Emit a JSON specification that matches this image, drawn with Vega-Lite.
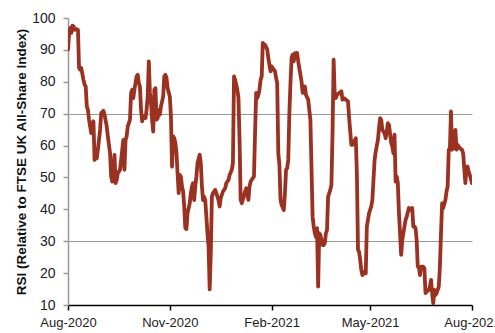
{
  "$schema": "https://vega.github.io/schema/vega-lite/v6.json",
  "width": 404,
  "height": 287,
  "autosize": "none",
  "padding": {"left": 68, "top": 18, "right": 23, "bottom": 28},
  "background": "white",
  "config": {"view": {"stroke": null}, "font": "Liberation Sans"},
  "data": {"values": [
    {"date":"2020-08-01","rsi":90.1},{"date":"2020-08-02","rsi":95.3},{"date":"2020-08-03","rsi":96.9},{"date":"2020-08-04","rsi":95.3},{"date":"2020-08-05","rsi":97.6},{"date":"2020-08-06","rsi":97.4},{"date":"2020-08-07","rsi":96.3},{"date":"2020-08-09","rsi":96.5},{"date":"2020-08-10","rsi":96.3},{"date":"2020-08-11","rsi":84.3},{"date":"2020-08-12","rsi":83.8},{"date":"2020-08-13","rsi":84.3},{"date":"2020-08-15","rsi":80.6},{"date":"2020-08-16","rsi":79.1},{"date":"2020-08-17","rsi":78.5},{"date":"2020-08-18","rsi":72.3},{"date":"2020-08-19","rsi":71.2},{"date":"2020-08-20","rsi":68.1},{"date":"2020-08-21","rsi":66.0},{"date":"2020-08-22","rsi":63.9},{"date":"2020-08-23","rsi":67.0},{"date":"2020-08-24","rsi":67.6},{"date":"2020-08-25","rsi":55.5},{"date":"2020-08-26","rsi":56.6},{"date":"2020-08-27","rsi":56.0},{"date":"2020-08-28","rsi":58.7},{"date":"2020-08-29","rsi":61.8},{"date":"2020-08-30","rsi":64.9},{"date":"2020-08-31","rsi":70.2},
    {"date":"2020-09-02","rsi":70.9},{"date":"2020-09-03","rsi":69.7},{"date":"2020-09-05","rsi":66.0},{"date":"2020-09-06","rsi":62.9},{"date":"2020-09-08","rsi":57.6},{"date":"2020-09-09","rsi":50.3},{"date":"2020-09-10","rsi":48.7},{"date":"2020-09-11","rsi":51.3},{"date":"2020-09-12","rsi":57.1},{"date":"2020-09-13","rsi":48.2},{"date":"2020-09-14","rsi":49.2},{"date":"2020-09-15","rsi":51.3},{"date":"2020-09-17","rsi":52.4},{"date":"2020-09-18","rsi":55.5},{"date":"2020-09-20","rsi":61.8},{"date":"2020-09-21","rsi":52.4},{"date":"2020-09-22","rsi":61.8},{"date":"2020-09-23","rsi":62.9},{"date":"2020-09-24","rsi":66.0},{"date":"2020-09-26","rsi":68.1},{"date":"2020-09-27","rsi":76.5},{"date":"2020-09-28","rsi":77.5},{"date":"2020-09-29","rsi":74.9},{"date":"2020-09-30","rsi":77.5},
    {"date":"2020-10-02","rsi":81.7},{"date":"2020-10-03","rsi":82.2},{"date":"2020-10-04","rsi":79.6},{"date":"2020-10-05","rsi":78.5},{"date":"2020-10-06","rsi":71.2},{"date":"2020-10-07","rsi":67.6},{"date":"2020-10-08","rsi":69.2},{"date":"2020-10-10","rsi":68.6},{"date":"2020-10-11","rsi":71.2},{"date":"2020-10-12","rsi":75.4},{"date":"2020-10-13","rsi":86.4},{"date":"2020-10-14","rsi":76.5},{"date":"2020-10-15","rsi":73.3},{"date":"2020-10-16","rsi":68.1},{"date":"2020-10-17","rsi":64.4},{"date":"2020-10-18","rsi":77.5},{"date":"2020-10-19","rsi":78.0},{"date":"2020-10-20","rsi":68.1},{"date":"2020-10-21","rsi":68.6},{"date":"2020-10-22","rsi":71.2},{"date":"2020-10-23","rsi":69.7},{"date":"2020-10-24","rsi":72.3},{"date":"2020-10-26","rsi":75.4},{"date":"2020-10-27","rsi":81.7},{"date":"2020-10-28","rsi":82.2},{"date":"2020-10-29","rsi":81.2},{"date":"2020-10-30","rsi":78.0},
    {"date":"2020-11-01","rsi":75.4},{"date":"2020-11-02","rsi":69.2},{"date":"2020-11-03","rsi":53.4},{"date":"2020-11-04","rsi":62.9},{"date":"2020-11-05","rsi":62.3},{"date":"2020-11-06","rsi":60.8},{"date":"2020-11-07","rsi":57.6},{"date":"2020-11-08","rsi":51.3},{"date":"2020-11-09","rsi":45.1},{"date":"2020-11-10","rsi":50.8},{"date":"2020-11-11","rsi":50.3},{"date":"2020-11-12","rsi":47.2},{"date":"2020-11-13","rsi":45.6},{"date":"2020-11-14","rsi":40.9},{"date":"2020-11-15","rsi":34.1},{"date":"2020-11-16","rsi":33.8},{"date":"2020-11-17","rsi":38.8},{"date":"2020-11-19","rsi":41.9},{"date":"2020-11-20","rsi":45.1},{"date":"2020-11-21","rsi":47.2},{"date":"2020-11-22","rsi":48.2},{"date":"2020-11-23","rsi":42.9},{"date":"2020-11-24","rsi":47.2},{"date":"2020-11-25","rsi":50.3},{"date":"2020-11-26","rsi":54.5},{"date":"2020-11-28","rsi":57.1},{"date":"2020-11-29","rsi":54.5},{"date":"2020-11-30","rsi":47.2},
    {"date":"2020-12-01","rsi":42.9},{"date":"2020-12-02","rsi":43.9},{"date":"2020-12-03","rsi":42.9},{"date":"2020-12-04","rsi":37.7},{"date":"2020-12-05","rsi":32.5},{"date":"2020-12-06","rsi":28.3},{"date":"2020-12-07","rsi":14.9},{"date":"2020-12-08","rsi":26.2},{"date":"2020-12-09","rsi":44.0},{"date":"2020-12-10","rsi":45.1},{"date":"2020-12-12","rsi":46.1},{"date":"2020-12-13","rsi":45.1},{"date":"2020-12-15","rsi":42.9},{"date":"2020-12-16","rsi":40.9},{"date":"2020-12-17","rsi":43.5},{"date":"2020-12-19","rsi":45.6},{"date":"2020-12-21","rsi":46.6},{"date":"2020-12-22","rsi":48.2},{"date":"2020-12-24","rsi":49.2},{"date":"2020-12-25","rsi":50.8},{"date":"2020-12-27","rsi":52.4},{"date":"2020-12-28","rsi":54.5},{"date":"2020-12-29","rsi":81.7},{"date":"2020-12-30","rsi":80.6},
    {"date":"2021-01-01","rsi":77.5},{"date":"2021-01-02","rsi":74.9},{"date":"2021-01-03","rsi":61.8},{"date":"2021-01-04","rsi":43.0},{"date":"2021-01-05","rsi":41.9},{"date":"2021-01-06","rsi":43.0},{"date":"2021-01-08","rsi":45.6},{"date":"2021-01-09","rsi":46.6},{"date":"2021-01-11","rsi":43.0},{"date":"2021-01-12","rsi":47.2},{"date":"2021-01-13","rsi":48.7},{"date":"2021-01-15","rsi":49.8},{"date":"2021-01-16","rsi":50.3},{"date":"2021-01-17","rsi":63.9},{"date":"2021-01-18","rsi":76.5},{"date":"2021-01-19","rsi":74.9},{"date":"2021-01-20","rsi":75.9},{"date":"2021-01-21","rsi":77.5},{"date":"2021-01-22","rsi":80.6},{"date":"2021-01-23","rsi":81.7},{"date":"2021-01-24","rsi":92.2},{"date":"2021-01-25","rsi":91.1},{"date":"2021-01-26","rsi":91.6},{"date":"2021-01-28","rsi":90.1},{"date":"2021-01-29","rsi":87.4},{"date":"2021-01-30","rsi":85.3},{"date":"2021-01-31","rsi":83.3},
    {"date":"2021-02-01","rsi":84.8},{"date":"2021-02-02","rsi":84.3},{"date":"2021-02-04","rsi":83.3},{"date":"2021-02-05","rsi":81.2},{"date":"2021-02-06","rsi":79.6},{"date":"2021-02-07","rsi":57.6},{"date":"2021-02-08","rsi":54.0},{"date":"2021-02-09","rsi":43.0},{"date":"2021-02-10","rsi":41.4},{"date":"2021-02-12","rsi":39.8},{"date":"2021-02-13","rsi":45.1},{"date":"2021-02-14","rsi":52.4},{"date":"2021-02-15","rsi":52.9},{"date":"2021-02-16","rsi":55.5},{"date":"2021-02-17","rsi":70.2},{"date":"2021-02-18","rsi":79.6},{"date":"2021-02-19","rsi":87.4},{"date":"2021-02-20","rsi":88.5},{"date":"2021-02-21","rsi":86.4},{"date":"2021-02-22","rsi":89.0},{"date":"2021-02-23","rsi":88.0},{"date":"2021-02-24","rsi":89.0},{"date":"2021-02-25","rsi":86.4},{"date":"2021-02-26","rsi":84.3},{"date":"2021-02-28","rsi":80.1},
    {"date":"2021-03-01","rsi":76.5},{"date":"2021-03-03","rsi":78.5},{"date":"2021-03-04","rsi":75.9},{"date":"2021-03-06","rsi":74.4},{"date":"2021-03-07","rsi":71.2},{"date":"2021-03-08","rsi":68.1},{"date":"2021-03-10","rsi":37.7},{"date":"2021-03-11","rsi":34.6},{"date":"2021-03-12","rsi":32.5},{"date":"2021-03-13","rsi":31.3},{"date":"2021-03-14","rsi":34.1},{"date":"2021-03-15","rsi":15.8},{"date":"2021-03-16","rsi":32.5},{"date":"2021-03-17","rsi":32.0},{"date":"2021-03-19","rsi":28.8},{"date":"2021-03-20","rsi":28.8},{"date":"2021-03-21","rsi":29.4},{"date":"2021-03-22","rsi":32.5},{"date":"2021-03-23","rsi":33.5},{"date":"2021-03-24","rsi":44.0},{"date":"2021-03-26","rsi":46.1},{"date":"2021-03-27","rsi":47.7},{"date":"2021-03-28","rsi":63.9},{"date":"2021-03-29","rsi":86.9},{"date":"2021-03-30","rsi":75.4},{"date":"2021-03-31","rsi":74.9},
    {"date":"2021-04-01","rsi":75.9},{"date":"2021-04-03","rsi":76.5},{"date":"2021-04-05","rsi":77.0},{"date":"2021-04-06","rsi":74.4},{"date":"2021-04-07","rsi":74.9},{"date":"2021-04-09","rsi":74.4},{"date":"2021-04-11","rsi":73.8},{"date":"2021-04-12","rsi":68.6},{"date":"2021-04-14","rsi":60.2},{"date":"2021-04-15","rsi":60.2},{"date":"2021-04-16","rsi":60.8},{"date":"2021-04-18","rsi":62.3},{"date":"2021-04-19","rsi":51.3},{"date":"2021-04-20","rsi":27.3},{"date":"2021-04-21","rsi":26.7},{"date":"2021-04-22","rsi":24.1},{"date":"2021-04-23","rsi":21.0},{"date":"2021-04-24","rsi":19.4},{"date":"2021-04-25","rsi":20.4},{"date":"2021-04-27","rsi":19.9},{"date":"2021-04-28","rsi":34.6},{"date":"2021-04-29","rsi":36.7},{"date":"2021-04-30","rsi":38.8},
    {"date":"2021-05-02","rsi":40.9},{"date":"2021-05-03","rsi":43.0},{"date":"2021-05-05","rsi":55.5},{"date":"2021-05-06","rsi":58.1},{"date":"2021-05-08","rsi":61.8},{"date":"2021-05-09","rsi":65.5},{"date":"2021-05-10","rsi":68.6},{"date":"2021-05-11","rsi":68.1},{"date":"2021-05-12","rsi":64.9},{"date":"2021-05-14","rsi":63.9},{"date":"2021-05-15","rsi":62.3},{"date":"2021-05-16","rsi":64.4},{"date":"2021-05-17","rsi":67.0},{"date":"2021-05-18","rsi":66.5},{"date":"2021-05-20","rsi":60.8},{"date":"2021-05-21","rsi":59.7},{"date":"2021-05-22","rsi":57.6},{"date":"2021-05-23","rsi":63.4},{"date":"2021-05-24","rsi":48.7},{"date":"2021-05-25","rsi":50.3},{"date":"2021-05-26","rsi":48.2},{"date":"2021-05-27","rsi":38.8},{"date":"2021-05-28","rsi":32.5},{"date":"2021-05-29","rsi":25.7},{"date":"2021-05-30","rsi":30.4},
    {"date":"2021-06-01","rsi":34.6},{"date":"2021-06-02","rsi":36.7},{"date":"2021-06-03","rsi":37.7},{"date":"2021-06-05","rsi":40.4},{"date":"2021-06-06","rsi":39.8},{"date":"2021-06-08","rsi":40.4},{"date":"2021-06-09","rsi":34.6},{"date":"2021-06-10","rsi":34.6},{"date":"2021-06-11","rsi":34.1},{"date":"2021-06-12","rsi":30.4},{"date":"2021-06-13","rsi":22.0},{"date":"2021-06-14","rsi":22.0},{"date":"2021-06-15","rsi":19.4},{"date":"2021-06-16","rsi":22.0},{"date":"2021-06-18","rsi":22.0},{"date":"2021-06-19","rsi":21.5},{"date":"2021-06-20","rsi":13.7},{"date":"2021-06-21","rsi":14.2},{"date":"2021-06-23","rsi":14.7},{"date":"2021-06-24","rsi":15.8},{"date":"2021-06-25","rsi":17.9},{"date":"2021-06-26","rsi":13.7},{"date":"2021-06-27","rsi":10.5},{"date":"2021-06-28","rsi":14.7},{"date":"2021-06-29","rsi":13.1},{"date":"2021-06-30","rsi":13.7},
    {"date":"2021-07-02","rsi":15.8},{"date":"2021-07-03","rsi":22.0},{"date":"2021-07-04","rsi":32.5},{"date":"2021-07-05","rsi":41.9},{"date":"2021-07-06","rsi":40.4},{"date":"2021-07-08","rsi":43.0},{"date":"2021-07-09","rsi":45.6},{"date":"2021-07-10","rsi":47.2},{"date":"2021-07-11","rsi":58.7},{"date":"2021-07-12","rsi":58.7},{"date":"2021-07-13","rsi":70.7},{"date":"2021-07-14","rsi":58.7},{"date":"2021-07-15","rsi":61.8},{"date":"2021-07-16","rsi":59.2},{"date":"2021-07-17","rsi":64.9},{"date":"2021-07-18","rsi":58.7},{"date":"2021-07-19","rsi":60.2},{"date":"2021-07-20","rsi":59.7},{"date":"2021-07-21","rsi":59.2},{"date":"2021-07-23","rsi":58.7},{"date":"2021-07-24","rsi":57.6},{"date":"2021-07-26","rsi":48.2},{"date":"2021-07-27","rsi":52.9},{"date":"2021-07-28","rsi":53.4},{"date":"2021-07-29","rsi":51.8},{"date":"2021-07-30","rsi":50.8},{"date":"2021-08-01","rsi":48.2}
  ]},
  "mark": {"type": "line", "color": "#9B3221", "strokeWidth": 3.8, "strokeJoin": "round", "strokeCap": "round", "clip": true},
  "encoding": {
    "x": {
      "field": "date", "type": "temporal",
      "scale": {"type": "utc", "domain": [{"year": 2020, "month": 8, "date": 1, "utc": true}, {"year": 2021, "month": 8, "date": 1, "utc": true}]},
      "axis": {
        "title": null,
        "format": "%b-%Y",
        "values": [
          {"year": 2020, "month": 8, "date": 1, "utc": true},
          {"year": 2020, "month": 11, "date": 1, "utc": true},
          {"year": 2021, "month": 2, "date": 1, "utc": true},
          {"year": 2021, "month": 5, "date": 1, "utc": true},
          {"year": 2021, "month": 8, "date": 1, "utc": true}
        ],
        "grid": false,
        "domainColor": "#000000",
        "domainWidth": 1.5,
        "tickColor": "#000000",
        "tickWidth": 1.5,
        "tickSize": 5,
        "labelFont": "Liberation Sans",
        "labelFontSize": 13,
        "labelColor": "#222222",
        "labelPadding": 6,
        "labelOverlap": false,
        "labelFlush": false
      }
    },
    "y": {
      "field": "rsi", "type": "quantitative",
      "scale": {"domain": [10, 100], "nice": false, "zero": false},
      "axis": {
        "title": "RSI (Relative to FTSE UK All-Share Index)",
        "titleFont": "Liberation Sans",
        "titleFontSize": 13.5,
        "titleFontWeight": "bold",
        "titleColor": "#111111",
        "titlePadding": 3,
        "values": [10, 20, 30, 40, 50, 60, 70, 80, 90, 100],
        "grid": true,
        "gridColor": "#999999",
        "gridWidth": 1,
        "gridOpacity": {"condition": {"test": "datum.value === 30 || datum.value === 70", "value": 1}, "value": 0},
        "domainColor": "#999999",
        "domainWidth": 1.5,
        "tickColor": "#999999",
        "tickWidth": 1.5,
        "tickSize": 5,
        "labelFont": "Liberation Sans",
        "labelFontSize": 14,
        "labelColor": "#222222",
        "labelPadding": 8
      }
    }
  }
}
